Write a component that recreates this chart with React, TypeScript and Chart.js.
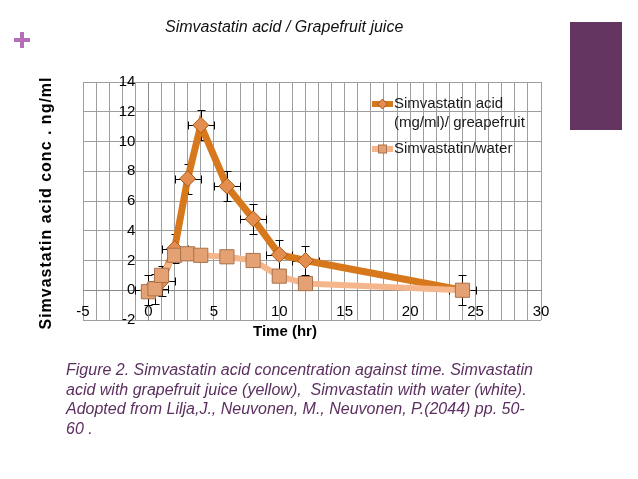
import React, { useEffect, useRef } from 'react';
import { Chart, registerables } from 'chart.js';

Chart.register(...registerables);

// ---- data ----
const timeHr = [0, 0.5, 1, 2, 3, 4, 6, 8, 10, 12, 24];
const grapefruitConc = [0, 0.1, 0.6, 2.8, 7.5, 11.1, 7.0, 4.8, 2.4, 2.0, 0];
const waterConc = [-0.1, 0.1, 1.0, 2.35, 2.45, 2.35, 2.25, 2.0, 0.95, 0.45, 0];
const grapefruitErrY = [1, 1, 1, 1, 1, 1, 1, 1, 1, 1, 1];
const grapefruitErrX = [1, 1, 1, 1, 1, 1, 1, 1, 1, 1, 1];
const grapefruitLegend = ['Simvastatin acid', '(mg/ml)/ greapefruit'];
const waterLegend = ['Simvastatin/water'];
const xMin = -5;
const xMax = 30;
const xLabelStep = 5;
const yMin = -2;
const yMax = 14;
const yStep = 2;

const chartTitle = 'Simvastatin acid / Grapefruit juice';
const xTitle = 'Time (hr)';
const yTitle = 'Simvastatin acid conc . ng/ml';
const captionLines = [
  'Figure 2. Simvastatin acid concentration against time. Simvastatin',
  'acid with grapefruit juice (yellow),  Simvastatin with water (white).',
  'Adopted from Lilja,J., Neuvonen, M., Neuvonen, P.(2044) pp. 50-',
  '60 .',
];

const FONT = "'Liberation Sans', Arial, Helvetica, sans-serif";
const GF_LINE = '#d7781d';
const GF_FILL = '#e38e4e';
const GF_EDGE = '#a65a1a';
const W_LINE = '#f6b68c';
const W_FILL = '#e4a173';
const W_EDGE = '#a9724c';

const errorBarPlugin = {
  id: 'errorBars',
  beforeDatasetsDraw(chart: any) {
    const { ctx, scales } = chart;
    const xs = scales.x;
    const ys = scales.y;
    ctx.save();
    ctx.strokeStyle = '#000';
    ctx.lineWidth = 1;
    const cap = 4;
    timeHr.forEach((t, i) => {
      const v = grapefruitConc[i];
      const px = Math.round(xs.getPixelForValue(t)) + 0.5;
      const py = Math.round(ys.getPixelForValue(v)) + 0.5;
      const yTop = Math.round(ys.getPixelForValue(v + grapefruitErrY[i])) + 0.5;
      const yBot = Math.round(ys.getPixelForValue(v - grapefruitErrY[i])) + 0.5;
      const xL = Math.round(xs.getPixelForValue(t - grapefruitErrX[i])) + 0.5;
      const xR = Math.round(xs.getPixelForValue(t + grapefruitErrX[i])) + 0.5;
      ctx.beginPath();
      ctx.moveTo(px, yTop); ctx.lineTo(px, yBot);
      ctx.moveTo(px - cap, yTop); ctx.lineTo(px + cap, yTop);
      ctx.moveTo(px - cap, yBot); ctx.lineTo(px + cap, yBot);
      ctx.moveTo(xL, py); ctx.lineTo(xR, py);
      ctx.moveTo(xL, py - cap); ctx.lineTo(xL, py + cap);
      ctx.moveTo(xR, py - cap); ctx.lineTo(xR, py + cap);
      ctx.stroke();
    });
    ctx.restore();
  },
};

const decorPlugin = {
  id: 'decor',
  afterDraw(chart: any) {
    const { ctx, chartArea, scales } = chart;
    ctx.save();
    // y tick labels, placed left of the x = 0 crossing axis
    const ys = scales.y;
    const xZero = scales.x.getPixelForValue(0);
    ctx.fillStyle = '#000';
    ctx.font = `15px ${FONT}`;
    ctx.textAlign = 'right';
    ctx.textBaseline = 'middle';
    ys.ticks.forEach((tk: any) => {
      ctx.fillText(String(tk.label ?? tk.value), xZero - 13, ys.getPixelForValue(tk.value));
    });

    // axis titles
    ctx.textAlign = 'center';
    ctx.font = `bold 15px ${FONT}`;
    ctx.fillText(xTitle, 285, chartArea.bottom + 12);
    ctx.save();
    ctx.font = `bold 16px ${FONT}`;
    try { (ctx as any).letterSpacing = '1px'; } catch (e) { /* ignore */ }
    ctx.translate(47, (chartArea.top + chartArea.bottom) / 2 + 2);
    ctx.rotate(-Math.PI / 2);
    ctx.fillText(yTitle, 0, 0);
    ctx.restore();

    // legend
    const lx = chartArea.right - 169;
    const tx = lx + 22;
    const row1 = chartArea.top + 22;
    const row2 = row1 + 45;
    ctx.font = `15px ${FONT}`;
    ctx.textAlign = 'left';
    // grapefruit sample
    ctx.strokeStyle = GF_LINE;
    ctx.lineWidth = 6;
    ctx.beginPath();
    ctx.moveTo(lx, row1); ctx.lineTo(lx + 21, row1);
    ctx.stroke();
    ctx.fillStyle = GF_FILL;
    ctx.strokeStyle = GF_EDGE;
    ctx.lineWidth = 1;
    ctx.beginPath();
    ctx.moveTo(lx + 10.5 - 5, row1);
    ctx.lineTo(lx + 10.5, row1 - 5);
    ctx.lineTo(lx + 10.5 + 5, row1);
    ctx.lineTo(lx + 10.5, row1 + 5);
    ctx.closePath();
    ctx.fill();
    ctx.stroke();
    ctx.fillStyle = '#1a1a1a';
    grapefruitLegend.forEach((s, i) => ctx.fillText(s, tx, row1 + i * 19));
    // water sample
    ctx.strokeStyle = W_LINE;
    ctx.lineWidth = 6;
    ctx.beginPath();
    ctx.moveTo(lx, row2); ctx.lineTo(lx + 21, row2);
    ctx.stroke();
    ctx.fillStyle = W_FILL;
    ctx.strokeStyle = W_EDGE;
    ctx.lineWidth = 1;
    ctx.fillRect(lx + 10.5 - 4, row2 - 4, 8, 8);
    ctx.strokeRect(lx + 10.5 - 4, row2 - 4, 8, 8);
    ctx.fillStyle = '#1a1a1a';
    waterLegend.forEach((s, i) => ctx.fillText(s, tx, row2 + i * 19));
    ctx.restore();
  },
};

export default function App() {
  const canvasRef = useRef<HTMLCanvasElement | null>(null);

  useEffect(() => {
    const canvas = canvasRef.current;
    if (!canvas) return;
    const tickFont = { family: FONT, size: 15 };
    const chart = new Chart(canvas, {
      type: 'line',
      data: {
        datasets: [
          {
            label: waterLegend.join(' '),
            data: timeHr.map((t, i) => ({ x: t, y: waterConc[i] })),
            borderColor: W_LINE,
            borderWidth: 6,
            pointStyle: 'rect',
            pointRadius: 10,
            pointBackgroundColor: W_FILL,
            pointBorderColor: W_EDGE,
            pointBorderWidth: 1,
            tension: 0,
            order: 0,
          },
          {
            label: grapefruitLegend.join(' '),
            data: timeHr.map((t, i) => ({ x: t, y: grapefruitConc[i] })),
            borderColor: GF_LINE,
            borderWidth: 7,
            pointStyle: 'rectRot',
            pointRadius: 8,
            pointBackgroundColor: GF_FILL,
            pointBorderColor: GF_EDGE,
            pointBorderWidth: 1,
            tension: 0,
            order: 1,
          },
        ],
      },
      options: {
        responsive: false,
        animation: false,
        events: [],
        layout: { padding: { left: 83, top: 82, right: 97, bottom: 159 } },
        plugins: {
          legend: { display: false },
          tooltip: { enabled: false },
          title: { display: false },
        },
        scales: {
          x: {
            type: 'linear',
            min: xMin,
            max: xMax,
            position: { y: 0 } as any,
            ticks: {
              stepSize: 1,
              autoSkip: false,
              maxRotation: 0,
              padding: 13,
              color: '#000',
              font: tickFont,
              callback: (v: any) => (Number(v) % xLabelStep === 0 ? String(v) : ''),
            },
            grid: { color: '#9e9e9e', drawTicks: false, lineWidth: 1 },
            border: { color: '#8a8a8a' },
          },
          y: {
            type: 'linear',
            min: yMin,
            max: yMax,
            position: { x: 0 } as any,
            ticks: {
              stepSize: yStep,
              display: false,
              color: '#000',
              font: tickFont,
            },
            grid: { color: '#9e9e9e', drawTicks: false, lineWidth: 1 },
            border: { color: '#8a8a8a' },
          },
        },
      },
      plugins: [errorBarPlugin, decorPlugin],
    } as any);
    return () => chart.destroy();
  }, []);

  return (
    <div style={{ position: 'fixed', left: 0, top: 0, width: 638, height: 479, background: '#fff', overflow: 'hidden', fontFamily: FONT }}>
      <canvas ref={canvasRef} width={638} height={479} style={{ position: 'absolute', left: 0, top: 0, display: 'block' }} />
      <div style={{ position: 'absolute', left: 14, top: 38, width: 16, height: 4, background: '#b56fb9' }} />
      <div style={{ position: 'absolute', left: 20, top: 32, width: 4, height: 16, background: '#b56fb9' }} />
      <div style={{ position: 'absolute', left: 570, top: 22, width: 52, height: 108, background: '#653562' }} />
      <div style={{ position: 'absolute', left: 165, top: 17, fontStyle: 'italic', fontSize: 16, color: '#111', whiteSpace: 'nowrap', lineHeight: '20px' }}>
        {chartTitle}
      </div>
      <div style={{ position: 'absolute', left: 66, top: 360, fontStyle: 'italic', fontSize: 16, color: '#5c2f60', lineHeight: '19.5px', whiteSpace: 'pre' }}>
        {captionLines.map((l, i) => (
          <div key={i}>{l}</div>
        ))}
      </div>
    </div>
  );
}
